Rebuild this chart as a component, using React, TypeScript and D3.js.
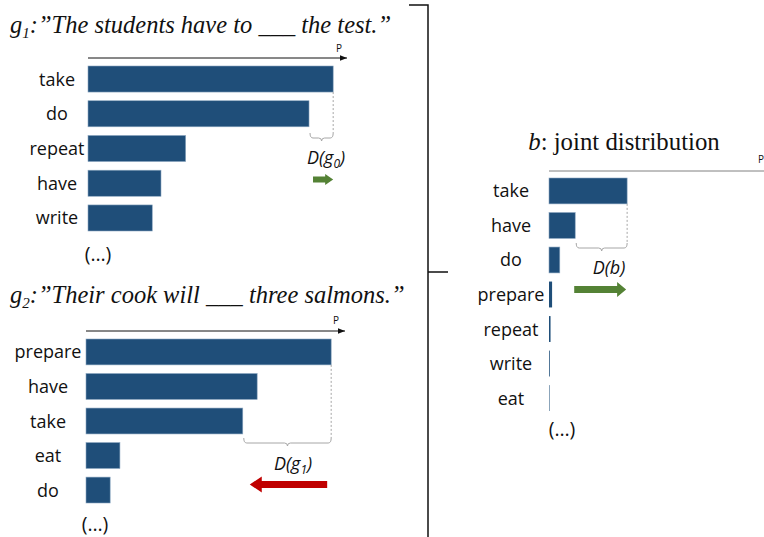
import React from "react";
import * as d3 from "d3";

const g1Words = ["take", "do", "repeat", "have", "write"];
const g1Values = [0.477, 0.43, 0.19, 0.142, 0.125];

const g2Words = ["prepare", "have", "take", "eat", "do"];
const g2Values = [0.477, 0.333, 0.305, 0.066, 0.047];

const bWords = ["take", "have", "do", "prepare", "repeat", "write", "eat"];
const bValues = [0.152, 0.051, 0.021, 0.006, 0.003, 0.0015, 0.001];

const BLUE = "#1f4e79";
const GREEN = "#548235";
const RED = "#c00000";
const GRAY = "#a6a6a6";
const SANS = "'Open Sans', Lato, sans-serif";
const SERIF = "'Liberation Serif', 'DejaVu Serif', serif";

function bracePath(x1: number, x2: number, y: number, h: number) {
  const m = (x1 + x2) / 2;
  const r = 3;
  return `M${x1},${y} Q${x1},${y + h} ${x1 + r},${y + h} L${m - r},${y + h} Q${m},${y + h} ${m},${y + h + 3} Q${m},${y + h} ${m + r},${y + h} L${x2 - r},${y + h} Q${x2},${y + h} ${x2},${y}`;
}

function blockArrow(tail: number, tip: number, cy: number, sh: number, hh: number, hl: number) {
  const dir = tip > tail ? 1 : -1;
  const hb = tip - dir * hl;
  return `M${tail},${cy - sh} L${hb},${cy - sh} L${hb},${cy - hh} L${tip},${cy} L${hb},${cy + hh} L${hb},${cy + sh} L${tail},${cy + sh} Z`;
}

type PanelProps = {
  words: string[];
  values: number[];
  x0: number;
  x1: number;
  yTop: number;
  yBottom: number;
  labelX: number;
};

function Bars({ words, values, x0, x1, yTop, yBottom, labelX }: PanelProps) {
  const x = d3.scaleLinear().domain([0, 0.5]).range([x0, x1]);
  const y = d3.scaleBand<string>().domain(words).range([yTop, yBottom]).paddingInner(0.25).paddingOuter(0);
  return (
    <g>
      {words.map((w, i) => (
        <g key={w}>
          <rect
            x={x(0)}
            y={y(w)}
            width={Math.max(0.5, x(values[i]) - x(0))}
            height={y.bandwidth()}
            fill={BLUE}
            stroke={values[i] > 0.01 ? "#8aa5bf" : "none"}
            strokeWidth={0.6}
          />
          <text
            x={labelX}
            y={(y(w) as number) + y.bandwidth() / 2 + 6.5}
            textAnchor="middle"
            fontFamily={SANS}
            fontSize={18}
            fill="#111"
          >
            {w}
          </text>
        </g>
      ))}
    </g>
  );
}

export default function App() {
  const x1s = d3.scaleLinear().domain([0, 0.5]).range([88, 345]);
  const y1s = d3.scaleBand<string>().domain(g1Words).range([66, 231]).paddingInner(0.25).paddingOuter(0);
  const x2s = d3.scaleLinear().domain([0, 0.5]).range([86, 343]);
  const y2s = d3.scaleBand<string>().domain(g2Words).range([339, 503]).paddingInner(0.25).paddingOuter(0);
  const x3s = d3.scaleLinear().domain([0, 0.5]).range([549, 806]);
  const y3s = d3.scaleBand<string>().domain(bWords).range([178, 411]).paddingInner(0.25).paddingOuter(0);

  const p1Max = x1s(g1Values[0]);
  const p1Sec = x1s(g1Values[1]);
  const p2Max = x2s(g2Values[0]);
  const p2Take = x2s(g2Values[2]);
  const p3Max = x3s(bValues[0]);
  const p3Sec = x3s(bValues[1]);

  return (
    <svg width={764} height={537} style={{ position: "absolute", left: 0, top: 0, background: "#fff" }}>
      <defs>
        <marker id="ah" viewBox="0 0 10 10" refX="10" refY="5" markerWidth="7" markerHeight="7" orient="auto" markerUnits="userSpaceOnUse">
          <path d="M0,1 L10,5 L0,9 Z" fill="#111" />
        </marker>
      </defs>

      {/* bracket */}
      <path d="M409,5 L428,5 L428,537 M428,272 L448,272" fill="none" stroke="#111" strokeWidth={1.5} />

      {/* Panel 1 */}
      <text x={10} y={33} fontFamily={SERIF} fontSize={24.5} fontStyle="italic" fill="#111">
        g<tspan fontSize={15} dy={5}>1</tspan>
        <tspan dy={-5}>:”The students have to ___ the test.”</tspan>
      </text>
      <line x1={88} x2={347} y1={58} y2={58} stroke="#111" strokeWidth={1} markerEnd="url(#ah)" />
      <text x={339} y={52} fontFamily={SANS} fontSize={10} textAnchor="middle" fill="#111">P</text>
      <Bars words={g1Words} values={g1Values} x0={88} x1={345} yTop={66} yBottom={231} labelX={57} />
      <line x1={p1Max} x2={p1Max} y1={(y1s("take") as number) + y1s.bandwidth()} y2={133} stroke={GRAY} strokeDasharray="2,2" strokeWidth={1} />
      <path d={bracePath(p1Sec + 1, p1Max, 133, 5)} fill="none" stroke={GRAY} strokeWidth={1} />
      <text x={326} y={164} fontFamily={SANS} fontSize={18} fontStyle="italic" textAnchor="middle" fill="#111">
        D(g<tspan fontSize={12} dy={4}>0</tspan><tspan dy={-4}>)</tspan>
      </text>
      <path d={blockArrow(p1Sec + 4, p1Max, 179.5, 3, 5.5, 8)} fill={GREEN} />
      <text x={98} y={261} fontFamily={SANS} fontSize={19.5} textAnchor="middle" fill="#111">(…)</text>

      {/* Panel 2 */}
      <text x={10} y={303} fontFamily={SERIF} fontSize={24.5} fontStyle="italic" fill="#111">
        g<tspan fontSize={15} dy={5}>2</tspan>
        <tspan dy={-5}>:”Their cook will ___ three salmons.”</tspan>
      </text>
      <line x1={86} x2={345} y1={331} y2={331} stroke="#111" strokeWidth={1} markerEnd="url(#ah)" />
      <text x={336} y={324} fontFamily={SANS} fontSize={10} textAnchor="middle" fill="#111">P</text>
      <Bars words={g2Words} values={g2Values} x0={86} x1={343} yTop={339} yBottom={503} labelX={48} />
      <line x1={p2Max} x2={p2Max} y1={(y2s("prepare") as number) + y2s.bandwidth()} y2={438} stroke={GRAY} strokeDasharray="2,2" strokeWidth={1} />
      <path d={bracePath(p2Take + 1, p2Max, 438, 5)} fill="none" stroke={GRAY} strokeWidth={1} />
      <text x={293} y={470} fontFamily={SANS} fontSize={18} fontStyle="italic" textAnchor="middle" fill="#111">
        D(g<tspan fontSize={12} dy={4}>1</tspan><tspan dy={-4}>)</tspan>
      </text>
      <path d={blockArrow(p2Max - 4, p2Take + 7, 484.5, 3.5, 8, 12)} fill={RED} />
      <text x={95} y={531} fontFamily={SANS} fontSize={19.5} textAnchor="middle" fill="#111">(…)</text>

      {/* Panel 3 */}
      <text x={624} y={150} fontFamily={SERIF} fontSize={24.8} textAnchor="middle" fill="#111">
        <tspan fontStyle="italic">b</tspan>: joint distribution
      </text>
      <line x1={549} x2={764} y1={171} y2={171} stroke="#808080" strokeWidth={1} />
      <text x={761} y={163} fontFamily={SANS} fontSize={10} textAnchor="middle" fill="#111">P</text>
      <Bars words={bWords} values={bValues} x0={549} x1={806} yTop={178} yBottom={411} labelX={511} />
      <line x1={p3Max} x2={p3Max} y1={(y3s("take") as number) + y3s.bandwidth()} y2={243} stroke={GRAY} strokeDasharray="2,2" strokeWidth={1} />
      <path d={bracePath(p3Sec + 1, p3Max, 243, 5)} fill="none" stroke={GRAY} strokeWidth={1} />
      <text x={609} y={274} fontFamily={SANS} fontSize={18} fontStyle="italic" textAnchor="middle" fill="#111">D(b)</text>
      <path d={blockArrow(p3Sec - 1, p3Max - 1, 289.5, 3.5, 7.5, 9)} fill={GREEN} />
      <text x={562} y={436} fontFamily={SANS} fontSize={19.5} textAnchor="middle" fill="#111">(…)</text>
    </svg>
  );
}
